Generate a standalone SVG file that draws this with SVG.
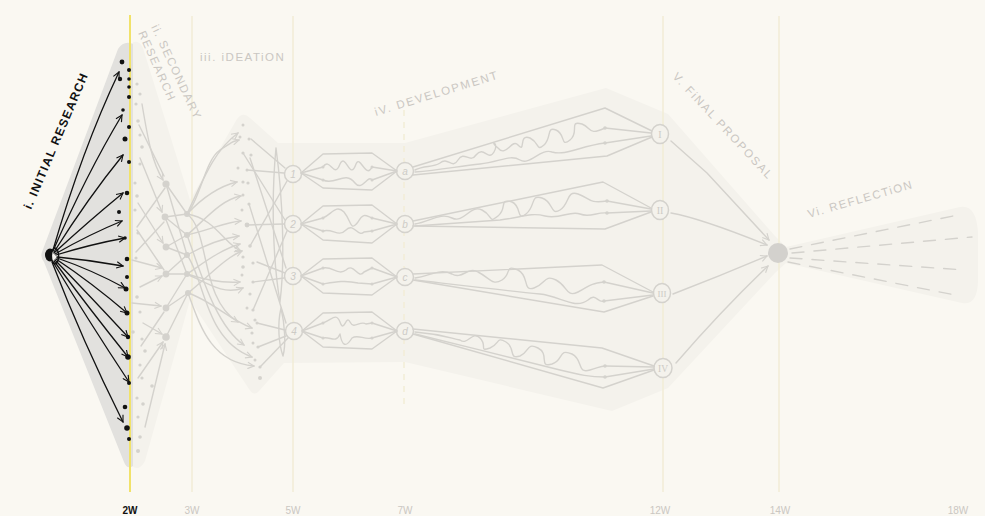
<svg xmlns="http://www.w3.org/2000/svg" width="985" height="516" viewBox="0 0 985 516">
<defs>
<style>
.bg{fill:#faf8f2}
.reg{fill:#f4f2ec}
.ax{stroke:#f2edd6;stroke-width:1.5;fill:none}
.blk{stroke:#111;stroke-width:1.3;fill:none;stroke-linecap:round}
.gl{stroke:#d4d2cd;stroke-width:1.4;fill:none;stroke-linecap:round;stroke-linejoin:round}
.bd{fill:#111}
.gd{fill:#d4d2cd}
.nc{fill:#f4f2ec;stroke:#d4d2cd;stroke-width:1.5}
.nt{font-family:"Liberation Sans",Arial,sans-serif;font-size:10px;fill:#cdcbc6;text-anchor:middle;font-style:italic}
.rn{font-family:"Liberation Serif","Times New Roman",serif;font-size:10px;fill:#cdcbc6;text-anchor:middle}
.lb{font-family:"Liberation Sans",Arial,sans-serif;font-size:11.5px;fill:#cac7c2;letter-spacing:1.5px}
.axl{font-family:"Liberation Sans",Arial,sans-serif;font-size:10px;fill:#cac7c2;text-anchor:middle}
</style>
<marker id="ab" viewBox="0 0 10 10" refX="9" refY="5" markerWidth="8" markerHeight="8" markerUnits="userSpaceOnUse" orient="auto"><path d="M1,1 L9,5 L1,9" fill="none" stroke="#111" stroke-width="1.4"/></marker>
<marker id="ag" viewBox="0 0 10 10" refX="9" refY="5" markerWidth="8" markerHeight="8" markerUnits="userSpaceOnUse" orient="auto"><path d="M1,1 L9,5 L1,9" fill="none" stroke="#d4d2cd" stroke-width="1.4"/></marker>
</defs>
<rect class="bg" x="0" y="0" width="985" height="516"/>

<g id="regions">
<path class="reg" d="M131,44 Q138,38 143,48 L190,200 L237,119 Q243,111 250,118 L278,143 L405,143 L606,88 L668,114 L775,236 L786,247 L960,207 Q976,204 978,232 L978,282 Q977,306 962,303 L786,263 L775,273 L668,388 L612,411 L405,362 L284,363 L259,391 Q254,397 249,389 L190,300 L145,461 Q139,472 132,466 Z"/>
<path fill="#e2e1de" d="M42,252 L118,49 Q124,40 133,44 L133,466 Q127,470 124,462 L44,262 Q40,257 42,252 Z"/>
</g>

<g id="axis">
<line class="ax" x1="192" y1="16" x2="192" y2="492"/>
<line class="ax" x1="293" y1="16" x2="293" y2="492"/>
<line class="ax" x1="404" y1="110" x2="404" y2="410" stroke-dasharray="6 6"/>
<line class="ax" x1="663" y1="16" x2="663" y2="492"/>
<line class="ax" x1="779" y1="16" x2="779" y2="492"/>
<line x1="130" y1="15" x2="130" y2="492" stroke="#f1e26a" stroke-width="2"/>
<text class="axl" x="130" y="514" style="fill:#111;font-weight:bold">2W</text>
<text class="axl" x="192" y="514">3W</text>
<text class="axl" x="293" y="514">5W</text>
<text class="axl" x="405" y="514">7W</text>
<text class="axl" x="660" y="514">12W</text>
<text class="axl" x="780" y="514">14W</text>
<text class="axl" x="958" y="514">18W</text>
</g>

<g id="labels">
<text x="31" y="210" transform="rotate(-67 31 210)" style="font-family:'Liberation Sans',Arial,sans-serif;font-size:12px;font-weight:bold;fill:#111;letter-spacing:1.3px">i. INITIAL RESEARCH</text>
<text class="lb" x="151" y="27" transform="rotate(65 151 27)">ii. SECONDARY</text>
<text class="lb" x="138" y="33" transform="rotate(66 138 33)">RESEARCH</text>
<text class="lb" x="200" y="61">iii. iDEATiON</text>
<text class="lb" x="376" y="116" transform="rotate(-17 376 116)" style="letter-spacing:1.8px">iV. DEVELOPMENT</text>
<text class="lb" x="672" y="77" transform="rotate(47 672 77)" style="letter-spacing:1.8px">V. FiNAL PROPOSAL</text>
<text class="lb" x="809" y="218" transform="rotate(-16 809 218)">Vi. REFLECTiON</text>
</g>

<g id="initial-research">
<g class="bd">
<circle cx="122" cy="62" r="2.4"/><circle cx="129" cy="70" r="2"/><circle cx="120" cy="79" r="2.2"/><circle cx="129" cy="79" r="1.8"/><circle cx="129" cy="87" r="1.8"/><circle cx="129" cy="97" r="2"/><circle cx="123" cy="110" r="1.8"/><circle cx="129" cy="127" r="2"/><circle cx="125" cy="139" r="2.5"/><circle cx="129" cy="162" r="2"/><circle cx="127" cy="193" r="2.3"/><circle cx="119" cy="212" r="2"/><circle cx="125" cy="238" r="1.8"/><circle cx="127" cy="259" r="2.3"/><circle cx="127" cy="277" r="2"/><circle cx="126" cy="289" r="2.5"/><circle cx="127" cy="313" r="2.5"/><circle cx="128" cy="337" r="2.2"/><circle cx="128" cy="357" r="2.8"/><circle cx="129" cy="383" r="2"/><circle cx="125" cy="407" r="2.3"/><circle cx="127" cy="428" r="2.8"/><circle cx="129" cy="439" r="2"/>
</g>
<ellipse cx="50" cy="255" rx="5" ry="6.5" fill="#111"/>
<ellipse cx="55" cy="256" rx="3.6" ry="8" fill="#f5f3ee" stroke="#111" stroke-width="1.4"/>
</g>

<g id="secondary-research">
<g class="gd">
<circle cx="137" cy="84" r="1.6"/><circle cx="140" cy="94" r="1.6"/><circle cx="136" cy="104" r="1.6"/><circle cx="138" cy="121" r="1.8"/><circle cx="140" cy="135" r="1.6"/><circle cx="142" cy="147" r="1.8"/><circle cx="140" cy="164" r="1.6"/><circle cx="135" cy="183" r="1.6"/><circle cx="137" cy="196" r="1.8"/><circle cx="135" cy="210" r="1.6"/><circle cx="138" cy="233" r="1.6"/><circle cx="136" cy="258" r="1.6"/><circle cx="137" cy="297" r="1.8"/><circle cx="140" cy="312" r="1.6"/><circle cx="133" cy="332" r="1.8"/><circle cx="142" cy="339" r="1.6"/><circle cx="145" cy="351" r="1.8"/><circle cx="140" cy="365" r="1.6"/><circle cx="142" cy="378" r="1.6"/><circle cx="152" cy="386" r="1.8"/><circle cx="137" cy="398" r="1.6"/><circle cx="143" cy="404" r="1.8"/><circle cx="138" cy="417" r="1.6"/><circle cx="140" cy="437" r="1.8"/><circle cx="138" cy="451" r="2"/>
<circle cx="166" cy="184" r="3.6"/><circle cx="165" cy="217" r="3.4"/><circle cx="166" cy="247" r="3.4"/><circle cx="166" cy="274" r="3.4"/><circle cx="166" cy="308" r="3.4"/><circle cx="166" cy="337" r="3.8"/>
<circle cx="187" cy="214" r="3"/><circle cx="187" cy="235" r="3"/><circle cx="187" cy="255" r="3"/><circle cx="187" cy="274" r="3"/><circle cx="188" cy="293" r="3"/>
</g>
</g>

<g id="ideation">
<g class="gd">
<circle cx="243" cy="125" r="1.5"/><circle cx="240" cy="137" r="1.5"/><circle cx="249" cy="139" r="1.5"/><circle cx="243" cy="153" r="1.6"/><circle cx="251" cy="155" r="1.6"/><circle cx="238" cy="168" r="1.5"/><circle cx="247" cy="170" r="1.5"/><circle cx="243" cy="182" r="1.6"/><circle cx="248" cy="183" r="1.6"/><circle cx="243" cy="195" r="1.5"/><circle cx="249" cy="204" r="1.6"/><circle cx="242" cy="210" r="1.5"/><circle cx="247" cy="225" r="2.4"/><circle cx="250" cy="246" r="1.8"/><circle cx="243" cy="257" r="1.6"/><circle cx="253" cy="263" r="1.6"/><circle cx="243" cy="267" r="1.8"/><circle cx="242" cy="275" r="1.5"/><circle cx="253" cy="282" r="1.6"/><circle cx="250" cy="294" r="1.6"/><circle cx="247" cy="308" r="1.5"/><circle cx="253" cy="310" r="1.6"/><circle cx="255" cy="320" r="1.6"/><circle cx="257" cy="323" r="1.5"/><circle cx="252" cy="333" r="1.6"/><circle cx="253" cy="343" r="1.5"/><circle cx="258" cy="347" r="1.6"/><circle cx="255" cy="360" r="1.5"/><circle cx="260" cy="367" r="1.6"/><circle cx="260" cy="378" r="2"/>
</g>
</g>

<g id="node-1"><circle class="nc" cx="293" cy="174" r="8.5"/><text class="nt" x="293" y="178">1</text></g>
<g id="node-2"><circle class="nc" cx="293" cy="224" r="8.5"/><text class="nt" x="293" y="228">2</text></g>
<g id="node-3"><circle class="nc" cx="293" cy="276" r="8.5"/><text class="nt" x="293" y="280">3</text></g>
<g id="node-4"><circle class="nc" cx="294" cy="331" r="8.5"/><text class="nt" x="294" y="335">4</text></g>
<g id="node-a"><circle class="nc" cx="405" cy="171" r="8.5"/><text class="nt" x="405" y="175">a</text></g>
<g id="node-b"><circle class="nc" cx="405" cy="224" r="8.5"/><text class="nt" x="405" y="228">b</text></g>
<g id="node-c"><circle class="nc" cx="405" cy="277" r="8.5"/><text class="nt" x="405" y="281">c</text></g>
<g id="node-d"><circle class="nc" cx="405" cy="331" r="8.5"/><text class="nt" x="405" y="335">d</text></g>
<g id="node-I"><ellipse class="nc" cx="660" cy="134" rx="8.5" ry="9.5"/><text class="rn" x="660" y="138">I</text></g>
<g id="node-II"><ellipse class="nc" cx="660" cy="210" rx="8.5" ry="9.5"/><text class="rn" x="660" y="214">II</text></g>
<g id="node-III"><ellipse class="nc" cx="662" cy="293" rx="8.5" ry="9.5"/><text class="rn" x="662" y="297" style="font-size:9px">III</text></g>
<g id="node-IV"><ellipse class="nc" cx="663" cy="368" rx="9" ry="9.5"/><text class="rn" x="663" y="372" style="font-size:9.5px">IV</text></g>
<g id="node-final"><circle cx="778" cy="253" r="10" fill="#d3d1cd"/></g>

<g id="connectors">
<g class="blk" marker-end="url(#ab)">
<path d="M53,250 Q82,150 119,72"/>
<path d="M53,251 Q86,175 122,115"/>
<path d="M54,252 Q88,198 123,155"/>
<path d="M54,253 Q90,220 123,193"/>
<path d="M55,254 Q90,234 122,221"/>
<path d="M56,255 Q92,244 125,238"/>
<path d="M57,257 Q90,260 123,266"/>
<path d="M57,258 Q92,270 125,288"/>
<path d="M56,259 Q92,283 127,313"/>
<path d="M55,260 Q90,296 128,337"/>
<path d="M54,261 Q88,307 128,357"/>
<path d="M53,262 Q88,320 129,382"/>
<path d="M52,262 Q82,340 123,422"/>
</g>

<g class="gl" marker-end="url(#ag)">
<path d="M142,104 C148,140 152,162 163,180"/>
<path d="M140,158 L162,212"/>
<path d="M138,203 L163,243"/>
<path d="M132,260 L162,268"/>
<path d="M140,287 L162,276"/>
<path d="M132,303 L161,306"/>
<path d="M143,323 L162,334"/>
<path d="M138,378 L163,342"/>
<path d="M145,427 L165,344"/>
</g>
<g class="gl">
<path d="M139,125 L164,176"/>
<path d="M137,227 L165,188"/>
<path d="M136,252 L164,222"/>
<path d="M141,346 L164,312"/>
<path d="M137,230 L164,270"/>
<path d="M166,184 L187,214"/><path d="M165,217 L187,214"/><path d="M165,217 L187,235"/><path d="M166,247 L187,235"/><path d="M166,247 L187,255"/><path d="M166,274 L187,255"/><path d="M166,274 L187,274"/><path d="M166,308 L187,274"/><path d="M166,308 L188,293"/><path d="M166,337 L188,293"/><path d="M166,184 L187,255"/><path d="M165,217 L187,274"/>
</g>

<g class="gl" marker-end="url(#ag)">
<path d="M187,214 C200,200 205,160 220,150 S232,142 239,140"/>
<path d="M187,214 C205,195 220,186 237,182"/>
<path d="M187,214 C215,218 225,245 241,251"/>
<path d="M187,214 C210,230 200,300 238,322"/>
<path d="M187,235 C205,220 220,200 241,196"/>
<path d="M187,235 C210,230 225,222 241,221"/>
<path d="M187,235 C200,270 215,325 244,345"/>
<path d="M187,255 C205,245 225,238 239,236"/>
<path d="M187,255 C205,280 205,340 252,357"/>
<path d="M187,274 C205,262 220,250 240,244"/>
<path d="M187,274 C205,280 225,283 240,282"/>
<path d="M187,274 C210,285 225,295 243,288"/>
<path d="M188,293 C210,275 225,258 242,251"/>
<path d="M188,293 C210,300 230,320 252,328"/>
<path d="M188,293 C200,325 210,362 254,366"/>
<path d="M187,214 C205,175 215,150 238,133"/>
</g>
<g class="gl">
<path d="M251,139 L285,168"/>
<path d="M247,170 L284,173"/>
<path d="M250,158 L286,268"/>
<path d="M250,246 L287,181"/>
<path d="M247,225 L284,224"/>
<path d="M249,204 L286,323"/>
<path d="M257,262 L285,273"/>
<path d="M253,282 L284,278"/>
<path d="M253,310 L287,231"/>
<path d="M257,323 L285,330"/>
<path d="M258,347 L286,336"/>
<path d="M260,367 L288,338"/>
<path d="M243,153 L285,220"/>
<path d="M276,148 C271,200 273,262 280,302 C285,262 283,200 276,148"/>
<path d="M281,308 C277,325 279,345 283,356 C286,345 285,325 281,308"/>
</g>

<g class="gl">
<path d="M301,173 L323,154 L372,153 L397,171 L372,190 L323,188 Z"/>
<path d="M301,173 L323,167 M301,173 L323,180 M372,167 L397,171 M372,180 L397,171"/>
<path d="M323,167 C330,156 334,180 340,164 C346,152 350,182 356,164 C360,154 366,180 372,167"/>
<path d="M323,180 C335,186 345,170 355,183 C362,192 368,174 372,180"/>
<path d="M301,224 L323,206 L372,205 L397,224 L372,243 L323,240 Z"/>
<path d="M301,224 L323,218 M301,224 L323,231 M372,218 L397,224 M372,231 L397,224"/>
<path d="M323,218 C332,214 336,204 344,212 C352,222 350,232 358,222 C364,212 366,216 372,218"/>
<path d="M323,231 C333,228 338,238 346,230 C354,222 358,238 364,232 L372,231"/>
<path d="M301,276 L323,259 L372,258 L397,277 L372,295 L323,293 Z"/>
<path d="M301,276 L323,268 M301,276 L323,284 M372,268 L397,277 M372,284 L397,277"/>
<path d="M323,268 C333,266 338,276 346,270 C354,262 358,280 364,272 L372,268"/>
<path d="M323,284 C335,282 345,280 358,283 L372,284"/>
<path d="M302,331 L323,313 L372,312 L397,331 L372,349 L323,347 Z"/>
<path d="M302,331 L323,323 M302,331 L323,338 M372,323 L397,331 M372,338 L397,331"/>
<path d="M323,323 C332,320 336,312 340,322 C344,334 346,314 350,322 C354,330 360,320 366,324 L372,323"/>
<path d="M323,338 C330,336 336,344 340,334 C342,346 346,348 352,338 C358,334 364,340 372,338"/>
</g>

<g class="gl">
<path d="M413,167 L605,108 L652,131"/>
<path d="M413,175 L607,156 L652,137"/>
<path d="M605,128 L651,133 M605,143 L651,136"/>
<path d="M415,170 C425,165 432,168 440,163 C448,156 452,170 458,160 C464,150 470,164 476,155 C484,145 488,162 494,152 C500,142 488,140 498,148 C506,158 512,138 518,145 C526,154 518,133 530,138 C540,143 536,152 544,145 C552,138 546,126 556,130 C566,134 560,148 570,140 C580,132 568,120 582,124 C592,128 588,136 605,128"/>
<path d="M415,172 C440,170 460,166 480,164 C500,162 510,154 520,160 C530,166 540,148 552,152 C566,156 580,146 605,143"/>
<path d="M413,221 L603,182 L651,208"/>
<path d="M413,226 L605,229 L651,212"/>
<path d="M607,201 L651,209 M607,213 L651,211"/>
<path d="M415,224 C430,222 440,212 452,218 C464,224 470,204 482,210 C494,216 488,224 498,216 C508,208 498,198 512,202 C522,206 516,222 526,214 C536,206 530,194 542,198 C554,202 550,216 560,210 C570,204 566,190 578,194 C590,198 588,204 607,201"/>
<path d="M415,226 C440,224 470,222 500,220 C520,218 530,212 545,216 C560,220 570,210 580,214 C590,218 596,212 607,213"/>
<path d="M413,274 L602,265 L653,292"/>
<path d="M413,280 L604,312 L653,296"/>
<path d="M604,282 L653,293 M604,301 L653,295"/>
<path d="M415,278 C430,276 440,268 452,274 C462,280 468,266 478,272 C490,278 492,286 502,280 C512,274 504,264 518,270 C530,276 522,292 534,288 C546,284 544,274 556,280 C568,286 566,298 578,292 C590,286 588,284 604,282"/>
<path d="M415,280 C450,284 500,290 540,294 C560,296 575,310 588,300 C596,292 598,304 604,301"/>
<path d="M413,329 L602,348 L654,366"/>
<path d="M413,334 L603,388 L654,370"/>
<path d="M605,366 L654,367 M605,377 L654,369"/>
<path d="M415,332 C440,334 450,338 460,340 C468,346 472,330 480,338 C488,346 478,352 490,348 C500,344 496,336 506,342 C516,348 508,360 520,356 C530,352 526,342 538,348 C550,354 538,368 552,364 C564,360 558,348 572,354 C584,360 576,374 590,370 C598,368 600,366 605,366"/>
<path d="M415,334 C460,345 520,360 560,370 C580,375 590,377 605,377"/>
</g>
<g class="gd"><circle cx="605" cy="128" r="1.8"/><circle cx="605" cy="143" r="1.8"/><circle cx="607" cy="201" r="1.8"/><circle cx="607" cy="213" r="1.8"/><circle cx="604" cy="282" r="1.8"/><circle cx="604" cy="301" r="1.8"/><circle cx="605" cy="366" r="1.8"/><circle cx="605" cy="377" r="1.8"/><circle cx="323" cy="167" r="1.5"/><circle cx="323" cy="180" r="1.5"/><circle cx="372" cy="167" r="1.5"/><circle cx="372" cy="180" r="1.5"/><circle cx="323" cy="218" r="1.5"/><circle cx="323" cy="231" r="1.5"/><circle cx="372" cy="218" r="1.5"/><circle cx="372" cy="231" r="1.5"/><circle cx="323" cy="268" r="1.5"/><circle cx="323" cy="284" r="1.5"/><circle cx="372" cy="268" r="1.5"/><circle cx="372" cy="284" r="1.5"/><circle cx="323" cy="323" r="1.5"/><circle cx="323" cy="338" r="1.5"/><circle cx="372" cy="323" r="1.5"/><circle cx="372" cy="338" r="1.5"/></g>

<g class="gl" marker-end="url(#ag)">
<path d="M671,141 L707,173 L769,240"/>
<path d="M671,213 Q700,218 767,245"/>
<path d="M673,294 Q720,276 767,256"/>
<path d="M676,363 Q722,310 768,266"/>
</g>
<g class="gl" stroke-dasharray="12 10">
<path d="M790,249 L958,215"/>
<path d="M792,253 L972,237"/>
<path d="M790,258 L965,270"/>
<path d="M788,262 L955,295"/>
</g>
</g>
</svg>
